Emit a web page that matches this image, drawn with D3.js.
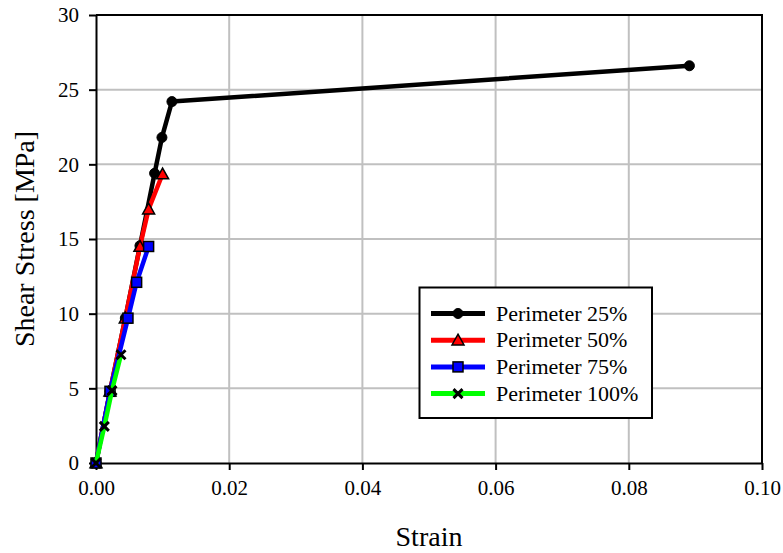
<!DOCTYPE html>
<html>
<head>
<meta charset="utf-8">
<script src="https://cdn.jsdelivr.net/npm/d3@7/dist/d3.min.js"></script>
<style>
  html, body { margin: 0; padding: 0; background: #fff; font-family: 'Liberation Serif', serif; }
  svg { display: block; }
</style>
</head>
<body>
<script>
// Shear stress vs strain for four bonded-perimeter ratios
const seriesNames = ["Perimeter 25%", "Perimeter 50%", "Perimeter 75%", "Perimeter 100%"];
const seriesColors = ["#000000", "#ff0000", "#0000ff", "#00ff00"];
const seriesMarkers = ["circle", "triangle", "square", "cross"];

const strain25 = [0, 0.0021, 0.0044, 0.0066, 0.0088, 0.0099, 0.0114, 0.0891];
const stress25 = [0, 4.8, 9.7, 14.55, 19.4, 21.8, 24.2, 26.6];

const strain50 = [0, 0.0021, 0.0044, 0.0066, 0.0079, 0.0100];
const stress50 = [0, 4.8, 9.7, 14.5, 17.0, 19.35];

const strain75 = [0, 0.0021, 0.0048, 0.0061, 0.0079];
const stress75 = [0, 4.8, 9.7, 12.1, 14.5];

const strain100 = [0, 0.00125, 0.0024, 0.00375];
const stress100 = [0, 2.45, 4.85, 7.25];

const xTicks = [0, 0.02, 0.04, 0.06, 0.08, 0.10];
const yTicks = [0, 5, 10, 15, 20, 25, 30];

const strains = [strain25, strain50, strain75, strain100];
const stresses = [stress25, stress50, stress75, stress100];
const series = seriesNames.map((name, i) => ({
  name, color: seriesColors[i], marker: seriesMarkers[i],
  points: strains[i].map((s, j) => ({ x: s, y: stresses[i][j] }))
}));

const FONT = "Liberation Serif";
const W = 783, H = 553;
const margin = { left: 96, right: 21, top: 15, bottom: 90 };

const svg = d3.select("body").append("svg").attr("width", W).attr("height", H)
  .attr("font-family", FONT);

const x = d3.scaleLinear().domain([0, 0.10]).range([margin.left, W - margin.right]);
const y = d3.scaleLinear().domain([0, 30]).range([H - margin.bottom, margin.top]);

// grid
svg.append("g").selectAll("line.gx").data(xTicks.slice(1, -1)).join("line")
  .attr("x1", d => x(d)).attr("x2", d => x(d))
  .attr("y1", y(0)).attr("y2", y(30))
  .attr("stroke", "#c0c0c0").attr("stroke-width", 2);
svg.append("g").selectAll("line.gy").data(yTicks.slice(1, -1)).join("line")
  .attr("x1", x(0)).attr("x2", x(0.10))
  .attr("y1", d => y(d)).attr("y2", d => y(d))
  .attr("stroke", "#c0c0c0").attr("stroke-width", 2);

// frame (top and right)
svg.append("path")
  .attr("d", `M${x(0)},${y(30)}H${x(0.10)}V${y(0)}`)
  .attr("fill", "none").attr("stroke", "#000").attr("stroke-width", 2);

// axes
const xAxis = d3.axisBottom(x).tickValues(xTicks).tickFormat(d3.format(".2f"))
  .tickSizeInner(7).tickSizeOuter(0).tickPadding(10);
const gx = svg.append("g").attr("transform", `translate(0,${y(0)})`).call(xAxis);
const yAxis = d3.axisLeft(y).tickValues(yTicks).tickFormat(d3.format("d"))
  .tickSizeInner(7).tickSizeOuter(0).tickPadding(10);
const gy = svg.append("g").attr("transform", `translate(${x(0)},0)`).call(yAxis);
[gx, gy].forEach(g => {
  g.attr("font-family", FONT).attr("font-size", 21);
  g.select(".domain").attr("stroke", "#000").attr("stroke-width", 2);
  g.selectAll(".tick line").attr("stroke", "#000").attr("stroke-width", 2);
  g.selectAll(".tick text").attr("fill", "#000");
});

// axis titles
svg.append("text").attr("x", (x(0) + x(0.10)) / 2).attr("y", 546)
  .attr("text-anchor", "middle").attr("font-family", FONT).attr("font-size", 28).text("Strain");
svg.append("text")
  .attr("transform", `translate(34,${(y(0) + y(30)) / 2}) rotate(-90)`)
  .attr("text-anchor", "middle").attr("font-family", FONT).attr("font-size", 28).text("Shear Stress [MPa]");

// markers
function drawMarker(g, type, cx, cy) {
  if (type === "circle") {
    g.append("circle").attr("cx", cx).attr("cy", cy).attr("r", 5)
      .attr("fill", "#000").attr("stroke", "#000").attr("stroke-width", 1);
  } else if (type === "triangle") {
    const s = 6;
    g.append("path")
      .attr("d", `M${cx},${cy - s}L${cx + s},${cy + s * 0.8}L${cx - s},${cy + s * 0.8}Z`)
      .attr("fill", "#ff0000").attr("stroke", "#000").attr("stroke-width", 1.5);
  } else if (type === "square") {
    g.append("rect").attr("x", cx - 5).attr("y", cy - 5).attr("width", 10).attr("height", 10)
      .attr("fill", "#0000ff").attr("stroke", "#000").attr("stroke-width", 1.5);
  } else if (type === "cross") {
    const s = 4.5;
    g.append("path")
      .attr("d", `M${cx - s},${cy - s}L${cx + s},${cy + s}M${cx - s},${cy + s}L${cx + s},${cy - s}`)
      .attr("stroke", "#000").attr("stroke-width", 3).attr("fill", "none");
  }
}

const line = d3.line().x(d => x(d.x)).y(d => y(d.y));
const plot = svg.append("g");
series.forEach(s => {
  const g = plot.append("g");
  g.append("path").datum(s.points).attr("d", line)
    .attr("fill", "none").attr("stroke", s.color).attr("stroke-width", 4.5)
    .attr("stroke-linejoin", "round");
  s.points.forEach(p => drawMarker(g, s.marker, x(p.x), y(p.y)));
});

// legend
const lg = svg.append("g");
lg.append("rect").attr("x", 419.5).attr("y", 287.5).attr("width", 232.5).attr("height", 130.5)
  .attr("fill", "#fff").attr("stroke", "#000").attr("stroke-width", 2);
series.forEach((s, i) => {
  const yy = 313.5 + i * 26.7;
  lg.append("line").attr("x1", 431).attr("x2", 485).attr("y1", yy).attr("y2", yy)
    .attr("stroke", s.color).attr("stroke-width", 5);
  drawMarker(lg, s.marker, 458, yy);
  lg.append("text").attr("x", 496).attr("y", yy + 7)
    .attr("font-family", FONT).attr("font-size", 22).text(s.name);
});
</script>
</body>
</html>
